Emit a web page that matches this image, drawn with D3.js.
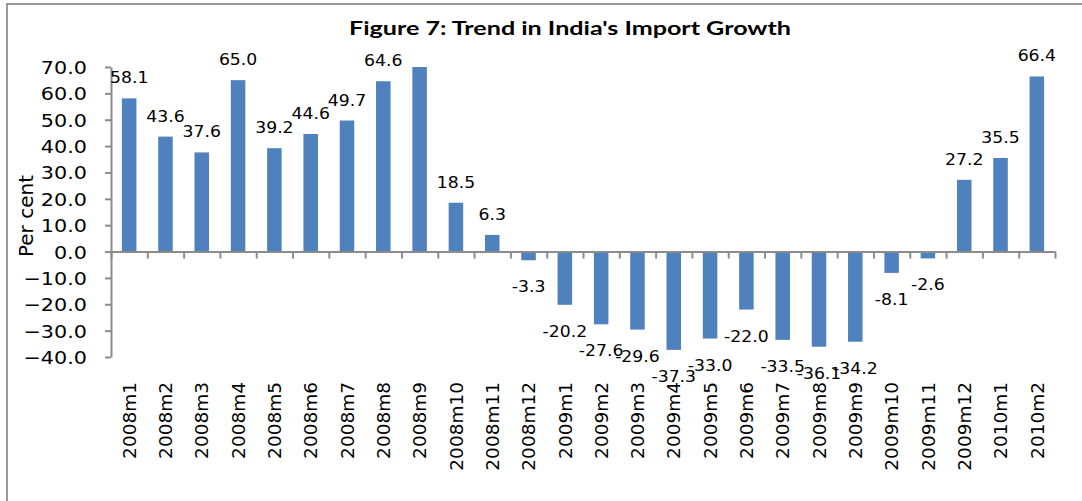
<!DOCTYPE html>
<html>
<head>
<meta charset="utf-8">
<script src="https://cdn.jsdelivr.net/npm/d3@7"></script>
<style>
    body { margin: 0; background: #fff; }
    svg { display: block; }
</style>
</head>
<body>
<div id="chart"></div>
<script>
// months on the x axis
var categories = ["2008m1", "2008m2", "2008m3", "2008m4", "2008m5", "2008m6", "2008m7", "2008m8",
    "2008m9", "2008m10", "2008m11", "2008m12", "2009m1", "2009m2", "2009m3", "2009m4", "2009m5",
    "2009m6", "2009m7", "2009m8", "2009m9", "2009m10", "2009m11", "2009m12", "2010m1", "2010m2"];

// import growth, percent (2008m9 runs past the top of the axis, its label is not shown)
var growth = [58.1, 43.6, 37.6, 65.0, 39.2, 44.6, 49.7, 64.6, 70.0, 18.5, 6.3, -3.3, -20.2, -27.6,
    -29.6, -37.3, -33.0, -22.0, -33.5, -36.1, -34.2, -8.1, -2.6, 27.2, 35.5, 66.4];
var hiddenLabels = ["2008m9"];

// y tick values
var yTicks = [-40, -30, -20, -10, 0, 10, 20, 30, 40, 50, 60, 70];

var width = 1082;
var height = 501;
var axisColor = "#8c8c8c";
var barColor = "#4f81bd";
var stretch = 1.15; // the original text is a bit wider than it is tall

var svg = d3.select("#chart").append("svg")
    .attr("width", width)
    .attr("height", height);

svg.append("rect")
    .attr("width", width)
    .attr("height", height)
    .attr("fill", "#fff");

// outer frame, runs off the right and bottom edges
svg.append("rect")
    .attr("x", 7)
    .attr("y", 4)
    .attr("width", width + 20)
    .attr("height", height + 20)
    .attr("fill", "none")
    .attr("stroke", "#999")
    .attr("stroke-width", 2);

// scales
var x = d3.scaleBand()
    .domain(categories)
    .range([111, 1055])
    .paddingInner(0.6)
    .paddingOuter(0.3);

var xEdge = d3.scaleLinear()
    .domain([0, categories.length])
    .range(x.range());

var y = d3.scaleLinear()
    .domain([-40, 70])
    .range([357, 67]);

// bars
svg.append("g").selectAll("rect")
    .data(categories)
    .enter().append("rect")
    .attr("x", function(d) { return x(d); })
    .attr("width", x.bandwidth())
    .attr("y", function(d, i) { return y(Math.max(0, growth[i])); })
    .attr("height", function(d, i) { return Math.abs(y(growth[i]) - y(0)); })
    .attr("fill", barColor);

// y axis
var yAxis = svg.append("g")
    .attr("transform", "translate(" + x.range()[0] + ",0)")
    .call(d3.axisLeft(y)
        .tickValues(yTicks)
        .tickSize(6)
        .tickSizeOuter(0)
        .tickFormat(d3.format(".1f")));

yAxis.selectAll("text")
    .attr("x", -21)
    .attr("dy", "0.36em")
    .attr("transform", "scale(" + stretch + ",1)")
    .style("font-family", "DejaVu Sans")
    .style("font-size", "18px")
    .style("fill", "#000");

// x axis line with ticks between the bars
var xAxis = svg.append("g")
    .attr("transform", "translate(0," + y(0) + ")")
    .call(d3.axisBottom(xEdge)
        .tickValues(d3.range(categories.length + 1))
        .tickSize(7)
        .tickSizeOuter(0)
        .tickFormat(""));

svg.selectAll(".domain, .tick line")
    .attr("stroke", axisColor)
    .attr("stroke-width", 2);

// category labels, below the plot area
var xLabels = svg.append("g")
    .attr("transform", "translate(0," + y(-40) + ")")
    .call(d3.axisBottom(x).tickSize(0));

xLabels.select(".domain").remove();

xLabels.selectAll("text")
    .attr("transform", "rotate(-90)")
    .attr("x", -25)
    .attr("y", 0)
    .attr("dy", "0.36em")
    .attr("text-anchor", "end")
    .style("font-family", "DejaVu Sans")
    .style("font-size", "18.5px")
    .style("fill", "#000");

// value labels above positive bars and below negative ones
svg.append("g").selectAll("text")
    .data(categories.filter(function(d) { return hiddenLabels.indexOf(d) < 0; }))
    .enter().append("text")
    .attr("transform", function(d) {
        var v = growth[categories.indexOf(d)];
        var ty = v >= 0 ? y(v) - 15 : y(v) + 32;
        return "translate(" + (x(d) + x.bandwidth() / 2) + "," + ty + ") scale(" + stretch + ",1)";
    })
    .attr("text-anchor", "middle")
    .style("font-family", "DejaVu Sans")
    .style("font-size", "15px")
    .style("fill", "#000")
    .text(function(d) { return growth[categories.indexOf(d)].toFixed(1); });

// y axis title
svg.append("text")
    .attr("transform", "translate(33,216) rotate(-90)")
    .attr("text-anchor", "middle")
    .style("font-family", "DejaVu Sans")
    .style("font-size", "20px")
    .text("Per cent");

// chart title
svg.append("text")
    .attr("x", 570)
    .attr("y", 35)
    .attr("text-anchor", "middle")
    .attr("textLength", 442)
    .attr("lengthAdjust", "spacingAndGlyphs")
    .style("font-family", "Lato")
    .style("font-weight", "bold")
    .style("font-size", "19px")
    .text("Figure 7: Trend in India's Import Growth");
</script>
</body>
</html>
